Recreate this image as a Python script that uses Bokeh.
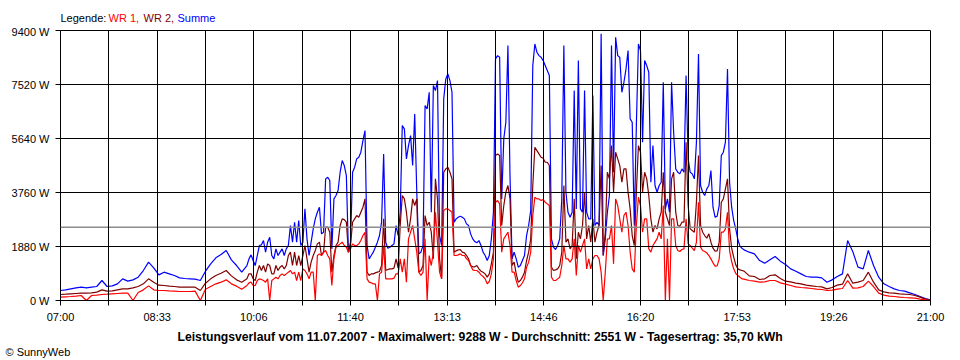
from bokeh.plotting import figure
from bokeh.layouts import column
from bokeh.models import (Range1d, FixedTicker, PrintfTickFormatter, CustomJSTickFormatter, Span,
                          Title, ColumnDataSource)
from bokeh.core.properties import value
from bokeh.embed import file_html
from bokeh.resources import INLINE

# ---- time axis (minutes after midnight) ----
times_morning = list(range(420, 600, 5))      # 07:00 - 09:55
times_midday = list(range(600, 1081, 2))      # 10:00 - 18:00
times_evening = list(range(1085, 1261, 5))    # 18:05 - 21:00
times = times_morning + times_midday + times_evening

x_tick_labels = ["07:00", "08:33", "10:06", "11:40", "13:13", "14:46", "16:20", "17:53", "19:26", "21:00"]
y_ticks = [0, 1880, 3760, 5640, 7520, 9400]
average_w = 2551
title_text = "Leistungsverlauf vom 11.07.2007 - Maximalwert: 9288 W - Durchschnitt: 2551 W - Tagesertrag: 35,70 kWh"
legend_texts = ["Legende:", "WR 1,", "WR 2,", "Summe"]
legend_colors = ["black", "#ff0000", "#800000", "#0000ff"]

# ---- Summe (blue) ----
summe_morning = [348, 371, 406, 441, 464, 441, 464, 487, 696, 487, 510, 580, 754, 673, 719, 812, 1044, 1334,
                 1137, 893, 986, 928, 870, 789, 766, 754, 742, 696, 1021, 1276, 1485, 1601, 1740, 1415, 1218, 986]
summe_midday = [1218, 1450, 1590, 1390, 1218, 1566, 1914, 1937, 2088, 1682,
                2030, 2204, 1566, 1450, 1798, 1566, 1682, 1798, 1566, 1798,
                1914, 2610, 2030, 2726, 2030, 2784, 1914, 2030, 3190, 2146,
                1566, 2030, 2494, 2842, 3074, 3248, 2320, 2378, 4234, 4292,
                4176, 1798, 3538, 3654, 3828, 4466, 4872, 4698, 4350, 1682,
                2030, 4466, 4640, 4930, 4988, 5162, 5568, 5916, 1914, 1450,
                1566, 1682, 1856, 2030, 2262, 2726, 5104, 2030, 1821, 1856,
                1914, 1972, 2610, 2262,
                3074, 6090, 5974, 4930, 5394, 5742, 4698, 6496, 3770, 1624,
                1682, 1914, 6786, 6670, 7250, 3074, 7482, 7308, 7656, 2262,
                1914, 7018, 7714, 7888, 7656, 7250, 2726, 2842, 2900, 2935,
                2900, 2842, 2668, 2610, 2320, 2146, 2053, 2007, 2088, 1914,
                1682, 1566, 1392, 1566, 2146, 3074, 8410, 8526, 8468, 3538,
                5626, 6206, 8874, 4350, 1450, 1682, 1450, 1160, 1218, 1392,
                1566, 2262, 2610, 3132, 8178, 8932, 8642, 8526, 8468, 8352,
                8178, 8004, 7830, 2146, 1856, 1775, 1914, 2146, 3538, 8874,
                3770, 3074, 2900, 3074, 7308, 3190, 8352, 3190, 3074, 7308,
                3074, 2842, 2842, 7134, 2610, 2726, 2610,
                9288, 1566, 2146, 3074, 3654, 8874, 4466, 9164, 8526, 8468,
                7250, 7598, 8062, 8700, 6322, 6206, 2610, 6090, 8932, 8700,
                5510, 8352, 8178, 7946, 4118, 5394, 4002, 3770, 4002, 4118,
                7598, 3190, 3538, 3074, 7598, 5858, 4582, 4466, 4408, 4582,
                4466, 7830, 4930, 4466, 4408, 4234, 5510, 8584, 4002, 3770,
                3654, 3886, 4002, 4524, 3248, 2900, 2935, 3306, 5046, 5162,
                5510, 8062, 4118, 3248, 2784, 2494, 2123, 1891, 1821, 1763]
summe_evening = [1682, 1624, 1392, 1299, 1415, 1531, 1369, 1253, 1102, 1021, 928, 835, 812, 812, 789, 638, 719, 835,
                 928, 2088, 1700, 1160, 1102, 1740, 1218, 812, 580, 487, 406, 348, 325, 267, 209, 139, 70, 23]

# ---- WR 2 (dark red) ----
wr2_morning = [209, 220, 232, 244, 255, 255, 267, 290, 371, 325, 336, 371, 406, 406, 441, 487, 580, 754,
               638, 534, 522, 499, 487, 464, 464, 464, 464, 348, 603, 754, 870, 951, 1044, 858, 719, 638]
wr2_midday = [754, 928, 928, 754, 696, 986, 1218, 1044, 1218, 986,
              1276, 1218, 928, 928, 1218, 1044, 1160, 1218, 1102, 1218,
              1566, 1682, 1218, 1682, 1218, 1566, 1218, 1566, 1914, 1450,
              986, 1334, 1566, 1740, 1972, 2030, 1566, 1682, 2552, 2552,
              2378, 986, 1566, 1914, 2030, 2610, 2842, 2818, 2726, 1682,
              1914, 2726, 2842, 2958, 2900, 3074, 3248, 3538, 986, 870,
              928, 928, 963, 986, 1009, 1218, 2842, 1044, 1079, 1102,
              1102, 1125, 1450, 1125,
              2610, 3654, 3538, 3074, 2378, 2842, 3538, 3306, 3538, 986,
              1044, 1218, 2958, 2610, 2726, 2378, 1450, 4234, 3538, 1450,
              754, 4466, 4582, 4640, 4466, 4234, 1682, 1728, 1763, 1775,
              1682, 1659, 1566, 1450, 1218, 1172, 1172, 1218, 1102, 1021,
              986, 928, 812, 928, 1276, 1682, 5046, 5104, 5046, 2610,
              3306, 3770, 4002, 3538, 1218, 1334, 928, 638, 696, 812,
              986, 1392, 1682, 2146, 4002, 5336, 5220, 5104, 4988, 4953,
              4814, 4814, 4698, 1160, 1044, 1067, 1102, 1218, 1682, 4002,
              2030, 2146, 1798, 1914, 3538, 1450, 2378, 2146, 2610, 3770,
              2146, 2610, 2030, 2842, 2030, 2378, 2610,
              4698, 1566, 2378, 4466, 4234, 5394, 3770, 5162, 4930, 4698,
              4118, 4582, 4582, 3770, 3190, 2262, 1914, 3770, 5394, 5162,
              3770, 4466, 4234, 3654, 2842, 2378, 2610, 2494, 2842, 3074,
              4466, 3074, 2842, 2610, 4234, 4466, 3074, 2610, 2587, 2726,
              2726, 5510, 3306, 2494, 2436, 2378, 3422, 5046, 2610, 2378,
              2262, 2169, 2320, 2030, 1821, 1717, 1728, 2030, 3422, 3538,
              3886, 4234, 2494, 1821, 1508, 1241, 1102, 1067, 1044, 1021]
wr2_evening = [858, 835, 731, 754, 870, 893, 766, 673, 650, 603, 580, 534, 510, 487, 476, 406, 452, 534,
               568, 928, 603, 638, 696, 986, 638, 371, 302, 267, 255, 232, 220, 209, 174, 116, 46, 12]

# ---- WR 1 (red) ----
wr1_morning = [116, 128, 139, 151, 174, 0, 174, 186, 209, 220, 232, 244, 255, 255, 0, 278, 371, 510,
               371, 348, 348, 336, 325, 313, 313, 313, 325, 0, 394, 487, 580, 638, 719, 580, 499, 394]
wr1_midday = [522, 615, 638, 522, 522, 696, 754, 731, 696, 638,
              754, 0, 696, 754, 812, 754, 870, 928, 870, 928,
              986, 1044, 928, 986, 696, 986, 696, 1102, 1044, 928,
              754, 986, 986, 0, 1566, 1624, 1566, 1682, 1740, 1566,
              1450, 522, 1450, 1856, 1914, 1972, 2030, 1914, 1856, 1682,
              1798, 1972, 1914, 1914, 1972, 2088, 2262, 2378, 754, 638,
              615, 580, 580, 0, 928, 986, 1914, 754, 754, 754,
              754, 777, 928, 928,
              1450, 986, 1450, 638, 2146, 2378, 2610, 2146, 1682, 986,
              870, 986, 2146, 0, 1566, 1218, 1682, 3074, 2030, 986,
              754, 3132, 3190, 3190, 3132, 3074, 1566, 1566, 1589, 1624,
              1566, 1566, 1450, 1392, 1218, 1067, 1044, 1044, 986, 893,
              835, 754, 580, 661, 928, 1450, 3422, 3480, 3364, 1682,
              2146, 2262, 2378, 1914, 986, 986, 696, 464, 522, 615,
              754, 1160, 1334, 1682, 2958, 3596, 3538, 3538, 3480, 3515,
              3422, 3364, 3306, 812, 696, 696, 754, 812, 1218, 1914,
              1450, 1450, 1334, 1450, 2146, 870, 1914, 1682, 1914, 2146,
              1102, 1450, 1102, 1450, 1566, 1566, 1450,
              986, 0, 986, 2146, 2146, 2610, 1276, 3538, 3306, 2842,
              2378, 2958, 3074, 2610, 1682, 1102, 986, 2610, 3596, 3306,
              2378, 2842, 2842, 1798, 1682, 1914, 2030, 2146, 2378, 2146,
              3306, 0, 2146, 0, 2842, 2842, 1914, 1740, 1705, 1775,
              1798, 2842, 1972, 1914, 1821, 1740, 2030, 3422, 1856, 1740,
              1705, 1659, 1566, 1450, 1311, 1195, 1206, 1450, 2378, 2378,
              2494, 3074, 1740, 1357, 1102, 940, 870, 812, 754, 742]
wr1_evening = [696, 673, 638, 650, 696, 696, 615, 568, 522, 476, 452, 441, 418, 394, 383, 348, 360, 394,
               418, 696, 429, 441, 487, 673, 487, 255, 186, 151, 139, 116, 104, 93, 81, 46, 23, 0]

summe = summe_morning + summe_midday + summe_evening
wr2 = wr2_morning + wr2_midday + wr2_evening
wr1 = wr1_morning + wr1_midday + wr1_evening

FONT = "Liberation Sans"
FRAME_W, FRAME_H = 870, 270
LEFT, RIGHT = 60, 30
HEADER_H = 25

t0, t1 = times[0], times[-1]
grid_step = (t1 - t0) / ((len(x_tick_labels) - 1) * 2)
x_grid_ticks = [t0 + i * grid_step for i in range((len(x_tick_labels) - 1) * 2 + 1)]

# ---------------- main chart ----------------
p = figure(frame_width=FRAME_W, frame_height=FRAME_H,
           x_range=Range1d(t0, t1), y_range=Range1d(y_ticks[0], y_ticks[-1]),
           output_backend="svg", toolbar_location=None,
           min_border_left=LEFT, min_border_right=RIGHT, min_border_top=30 - HEADER_H, min_border_bottom=60)
p.background_fill_color = "white"
p.border_fill_color = "white"
p.outline_line_color = "black"
p.outline_line_width = 1

p.line(times, summe, line_color="#0000ff", line_width=1.2)
p.line(times, wr2, line_color="#800000", line_width=1.2)
p.line(times, wr1, line_color="#ff0000", line_width=1.2)

p.add_layout(Span(location=average_w, dimension="width", line_color="#8c8c8c", line_width=1.5))

# axes
p.xaxis.ticker = FixedTicker(ticks=x_grid_ticks)
p.xaxis.formatter = CustomJSTickFormatter(args=dict(labels=x_tick_labels, t0=t0, step=grid_step), code="""
const i = Math.round((tick - t0) / step);
return (i % 2 === 0) ? labels[i / 2] : '';
""")
p.yaxis.ticker = FixedTicker(ticks=y_ticks)
p.yaxis.formatter = PrintfTickFormatter(format="%d W")
for ax in (p.xaxis, p.yaxis):
    ax.axis_line_color = "black"
    ax.major_tick_line_color = "black"
    ax.minor_tick_line_color = None
    ax.major_tick_out = 5
    ax.major_tick_in = 0
    ax.major_label_text_font = FONT
    ax.major_label_text_font_size = "11px"
    ax.major_label_text_color = "black"
p.xaxis.major_label_standoff = 5
p.yaxis.major_label_standoff = 6

# grid
p.xgrid.ticker = FixedTicker(ticks=x_grid_ticks)
p.ygrid.ticker = FixedTicker(ticks=y_ticks)
for g in (p.xgrid, p.ygrid):
    g.grid_line_color = "black"
    g.grid_line_width = 1
    g.grid_line_alpha = 1
    g.level = "overlay"

# bottom title and copyright
p.add_layout(Title(text=title_text, align="left", offset=117, standoff=5,
                   text_font=FONT, text_font_size="12.2px", text_font_style="bold",
                   text_color="black"), "below")
p.add_layout(Title(text="\u00a9 SunnyWeb", align="left", offset=-55, standoff=-5,
                   text_font=FONT, text_font_size="11px", text_font_style="normal",
                   text_color="black"), "below")

# ---------------- header (legend line), frame aligned with the chart ----------------
header = figure(frame_width=FRAME_W, frame_height=HEADER_H, x_range=p.x_range, y_range=Range1d(0, HEADER_H),
                x_axis_location=None, y_axis_location=None, toolbar_location=None,
                output_backend="svg", min_border_left=LEFT, min_border_right=RIGHT,
                min_border_top=0, min_border_bottom=0, outline_line_color=None)
header.grid.visible = False
header.background_fill_color = "white"
header.border_fill_color = "white"
legend_src = ColumnDataSource(dict(x=[t0] * 4, y=[HEADER_H - 17.5] * 4, dx=[0, 48, 83, 117],
                                   text=legend_texts, color=legend_colors))
header.text(x="x", y="y", x_offset="dx", text="text", text_color="color", source=legend_src,
            text_font=value(FONT), text_font_size=value("11px"),
            text_baseline="alphabetic", text_align="left")

layout = column(header, p, spacing=0)
open("out.html", "w").write(file_html(layout, INLINE))
